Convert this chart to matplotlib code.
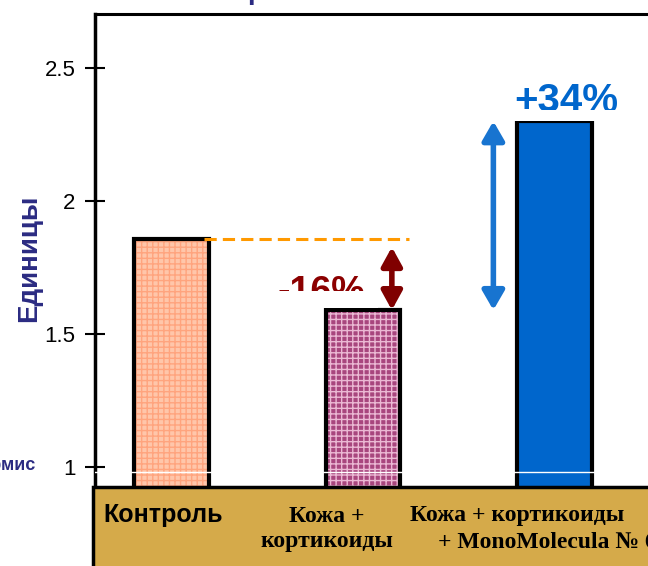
import matplotlib
matplotlib.use("Agg")
import matplotlib.pyplot as plt
from matplotlib.patches import Rectangle, FancyArrowPatch

# data
groups = ["Контроль", "Кожа +\nкортикоиды", "Кожа + кортикоиды\n+ MonoMolecula № 6"]
values = [1.857, 1.59, 2.30]
yticks = [1, 1.5, 2, 2.5]
ylabel = "Единицы"
drop_label = "-16%"
gain_label = "+34%"

fills = ["#FFC6AA", "#A8467E", "#0066CC"]
hatch_cols = ["#FFA47E", "#EBB8D4", "#0066CC"]
hatches = ["+++", "+++", None]

plt.rcParams["hatch.linewidth"] = 1.0
fig = plt.figure(figsize=(6.48, 5.66), dpi=100)
W, H = 648, 566
ax = fig.add_axes([95 / W, 79 / H, 560 / W, 473 / H])

x = range(len(values))
for i, v in enumerate(values):
    ax.bar(i, v, width=0.39, color=fills[i], edgecolor=hatch_cols[i],
           hatch=hatches[i], linewidth=0, zorder=2)
ax.bar(x, values, width=0.39, fill=False, edgecolor="black", linewidth=3, zorder=3)

ax.set_xlim(-0.40, 2.524)
ax.set_ylim(0.925, 2.703)
ax.set_yticks(yticks)
ax.set_yticklabels(["1", "1.5", "2", "2.5"], fontsize=16, family="Liberation Sans")
ax.set_xticks([])
ax.tick_params(axis="y", direction="inout", length=14, width=1.5, pad=7)
ax.spines["right"].set_visible(False)
ax.spines["bottom"].set_visible(False)
ax.spines["left"].set_linewidth(2.5)
ax.spines["top"].set_linewidth(2.2)

# white artefact line across the bars
ax.axhline(0.98, color="white", lw=1, zorder=4)

# control reference line
ax.plot([0.17, 1.24], [values[0], values[0]], ls=(0, (4, 2)), color="#FF9900",
        lw=2.2, zorder=4)

# arrows
ax.add_patch(FancyArrowPatch((1.15, values[0] - 0.03), (1.15, values[1]),
                             arrowstyle="<|-|>,head_length=0.4,head_width=0.22",
                             mutation_scale=28, color="#800000", lw=4,
                             shrinkA=0, shrinkB=0, zorder=5))
ax.add_patch(FancyArrowPatch((1.68, values[2]), (1.68, values[1]),
                             arrowstyle="<|-|>,head_length=0.38,head_width=0.22",
                             mutation_scale=30, color="#1874D0", lw=4,
                             shrinkA=0, shrinkB=0, zorder=5))

# labels, partly hidden as in the slide
ax.text(0.78, 1.615, drop_label, color="#8B0000", fontsize=27, fontweight="bold",
        family="Liberation Sans", ha="center", va="baseline", zorder=5)
ax.add_patch(Rectangle((0.5, 1.596), 0.58, 0.066, facecolor="white", edgecolor="none",
                       zorder=6))
ax.text(2.06, 2.335, gain_label, color="#0066CC", fontsize=29, fontweight="bold",
        family="Liberation Sans", ha="center", va="baseline", zorder=5)
ax.add_patch(Rectangle((1.74, values[2] + 0.002), 0.8, 0.04, facecolor="white",
                       edgecolor="none", zorder=6))

# y label and cut-off slide texts
fig.text(29 / W, 1 - 258 / H, ylabel, rotation=90, color="#2B2B82", fontsize=20,
         fontweight="bold", family="Liberation Sans", ha="center", va="center")
fig.text(36 / W, 1 - 466 / H, "Эпидермис", color="#2B2B82", fontsize=13,
         fontweight="bold", family="Liberation Sans", ha="right", va="center")
fig.text(247 / W, 1 + 1 / H, "р", color="#2B2B82", fontsize=20,
         fontweight="bold", family="Liberation Sans", ha="left", va="baseline")

# golden category band
fig.add_artist(Rectangle((93 / W, -0.05), 1, 79 / H + 0.05, transform=fig.transFigure,
                         facecolor="#D5AA4A", edgecolor="black", lw=2.5, zorder=10))
fig.text(103 / W, 1 - 515 / H, groups[0], fontsize=18, fontweight="bold",
         family="Liberation Sans", ha="left", va="center", zorder=11)
fig.text(327 / W, 1 - 529 / H, groups[1], fontsize=17, fontweight="bold",
         family="Liberation Serif", ha="center", va="center", linespacing=1.2,
         zorder=11)
l1, l2 = groups[2].split("\n")
fig.text(410 / W, 1 - 515 / H, l1, fontsize=17, fontweight="bold",
         family="Liberation Serif", ha="left", va="center", zorder=11)
fig.text(438 / W, 1 - 543 / H, l2, fontsize=17, fontweight="bold",
         family="Liberation Serif", ha="left", va="center", zorder=11)

fig.savefig("out.png", dpi=100)
